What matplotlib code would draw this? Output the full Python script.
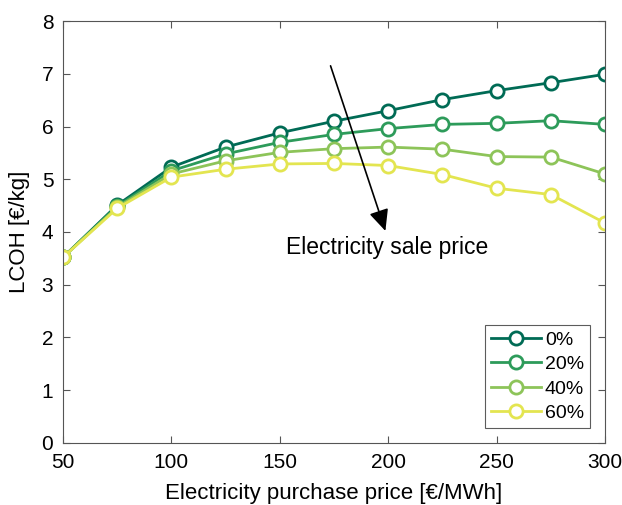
import matplotlib
matplotlib.use("Agg")
import matplotlib.pyplot as plt

purchase_price = [50, 75, 100, 125, 150, 175, 200, 225, 250, 275, 300]
series_labels = ["0%", "20%", "40%", "60%"]
lcoh_0 = [3.52, 4.51, 5.23, 5.61, 5.88, 6.10, 6.30, 6.51, 6.68, 6.83, 6.99]
lcoh_20 = [3.52, 4.49, 5.16, 5.48, 5.70, 5.85, 5.96, 6.04, 6.06, 6.11, 6.04]
lcoh_40 = [3.52, 4.47, 5.10, 5.35, 5.51, 5.58, 5.61, 5.57, 5.43, 5.42, 5.10]
lcoh_60 = [3.52, 4.45, 5.04, 5.19, 5.29, 5.30, 5.26, 5.09, 4.83, 4.71, 4.17]
colors = ["#006b55", "#2d9b5a", "#8dc459", "#e3e550"]

plt.rcParams['font.family'] = ['Liberation Sans', 'DejaVu Sans']
fig = plt.figure(figsize=(6.22, 5.05), dpi=100)
ax = fig.add_axes([0.1013, 0.1228, 0.8714, 0.8356])

for vals, lab, c in zip([lcoh_0, lcoh_20, lcoh_40, lcoh_60], series_labels, colors):
    ax.plot(purchase_price, vals, '-o', color=c, lw=2, markersize=9.5,
            markerfacecolor='white', markeredgewidth=2, label=lab)

ax.set_xlim(50, 300)
ax.set_ylim(0, 8)
ax.set_xticks(range(50, 301, 50))
ax.set_yticks(range(0, 9))
ax.tick_params(direction='in', labelsize=15, top=True, right=True, length=5,
               color='#555555', width=0.8)
ax.tick_params(axis='x', pad=7)
ax.tick_params(axis='y', pad=7)
for s in ax.spines.values():
    s.set_color('#555555')
    s.set_linewidth(0.8)
ax.set_xlabel("Electricity purchase price [€/MWh]", fontsize=16, labelpad=8)
ax.set_ylabel("LCOH [€/kg]", fontsize=16, labelpad=8)

ax.annotate("", xy=(198.7, 4.02), xytext=(173.4, 7.15),
            arrowprops=dict(arrowstyle='-|>,head_length=1.3,head_width=0.6',
                            color='black', lw=1.2, shrinkA=0, shrinkB=0))
ax.text(199.4, 3.70, "Electricity sale price", fontsize=16.5, ha='center', va='center')

leg = ax.legend(loc='lower right', bbox_to_anchor=(0.972, 0.036), borderaxespad=0,
                fontsize=14, frameon=True, fancybox=False,
                edgecolor='#333333', handlelength=2.55, borderpad=0.3, labelspacing=0.35,
                handletextpad=0.2)
leg.get_frame().set_linewidth(0.8)

fig.savefig("out.png", dpi=100)
